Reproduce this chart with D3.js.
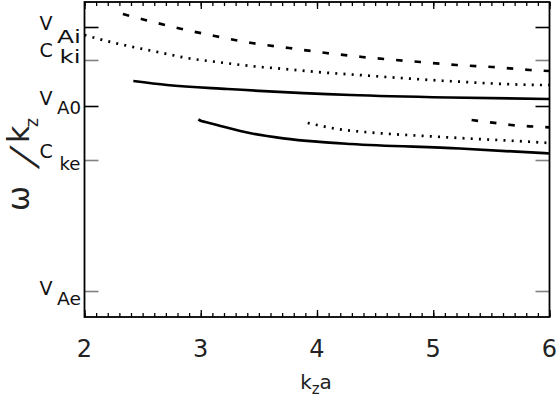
<!DOCTYPE html>
<html>
<head>
<meta charset="utf-8">
<script src="https://cdn.jsdelivr.net/npm/d3@7"></script>
<style>
    body { margin: 0; background: #fff; }
    svg { display: block; font-family: 'DejaVu Sans', sans-serif; }
</style>
</head>
<body>
<svg id="chart" width="556" height="399"></svg>
<script>
// Phase speed omega/k_z against k_z a, arbitrary speed units
const kTicks = [2, 3, 4, 5, 6];

// characteristic speeds marked on the y axis
const speedMain = ['V', 'C', 'V', 'C', 'V'];
const speedSub = ['Ai', 'ki', 'A0', 'ke', 'Ae'];
const speedValues = [2.90, 2.57, 2.11, 1.57, 0.26];

// upper family of modes
const upperDashK = [2.33, 2.49, 2.80, 3.12, 3.44, 3.76, 4.08, 4.39, 4.89, 5.20, 5.51, 5.83, 6.00];
const upperDashV = [3.03, 2.98, 2.89, 2.81, 2.74, 2.69, 2.64, 2.60, 2.55, 2.52, 2.50, 2.47, 2.46];
const upperDotK = [2.00, 2.26, 2.46, 2.67, 2.88, 3.14, 3.43, 3.72, 4.00, 4.36, 5.12, 5.96, 6.00];
const upperDotV = [2.82, 2.74, 2.69, 2.64, 2.59, 2.55, 2.51, 2.48, 2.45, 2.42, 2.36, 2.32, 2.32];
const upperSolidK = [2.42, 2.71, 3.23, 4.29, 5.14, 6.00];
const upperSolidV = [2.36, 2.32, 2.28, 2.22, 2.195, 2.18];

// lower family of modes
const lowerSolidK = [2.98, 3.00, 3.04, 3.14, 3.43, 3.71, 4.00, 4.29, 5.23, 6.00];
const lowerSolidV = [1.977, 1.962, 1.95, 1.92, 1.837, 1.787, 1.753, 1.73, 1.685, 1.635];
const lowerDotK = [3.92, 4.00, 4.14, 4.29, 4.41, 5.12, 5.96, 6.00];
const lowerDotV = [1.94, 1.92, 1.887, 1.863, 1.85, 1.797, 1.743, 1.74];
const lowerDashK = [5.33, 5.51, 5.67, 5.83, 6.00];
const lowerDashV = [1.97, 1.943, 1.92, 1.907, 1.897];

const curves = [
    { k: upperDashK, v: upperDashV, dash: '6.5,12' },
    { k: upperDotK, v: upperDotV, dash: '2,6.2' },
    { k: upperSolidK, v: upperSolidV, dash: null },
    { k: lowerSolidK, v: lowerSolidV, dash: null },
    { k: lowerDotK, v: lowerDotV, dash: '2,6.2' },
    { k: lowerDashK, v: lowerDashV, dash: '6.5,12' }
];

// label layout: baseline offsets (main letter, subscript) from the tick, and tick colour
const labelOffsets = [[3, 15.5], [-3, 3], [-1, 8], [-2, 10], [4, 14]];
const tickGray = [false, true, false, true, true];

const svg = d3.select('#chart');

const x = d3.scaleLinear().domain([2, 6]).range([84.5, 549.5]);
const y = d3.scaleLinear().domain([0, 3.15]).range([317, 2]);

// minor and major ticks, pointing inwards, on top and bottom
function xTicks(axisFn, yPos, count, size, values) {
    const axis = axisFn(x).tickSize(-size).tickFormat('');
    if (values) axis.tickValues(values); else axis.ticks(count);
    const g = svg.append('g')
        .attr('transform', `translate(0,${yPos})`)
        .call(axis);
    g.select('.domain').remove();
    g.selectAll('line').attr('stroke', '#000').attr('stroke-width', 1.3);
    return g;
}
xTicks(d3.axisBottom, y(0), 40, 4);
xTicks(d3.axisBottom, y(0), null, 7, kTicks);
xTicks(d3.axisTop, y(3.15), 40, 4);
xTicks(d3.axisTop, y(3.15), null, 7, kTicks);

// x tick labels
svg.append('g')
    .selectAll('text')
    .data(kTicks)
    .enter()
    .append('text')
        .attr('x', d => x(d))
        .attr('y', 357)
        .attr('text-anchor', 'middle')
        .attr('font-size', 24)
        .attr('fill', '#222')
        .text(d => d);

// speed ticks on left and right
[[d3.axisLeft, x(2)], [d3.axisRight, x(6)]].forEach(([axisFn, xPos]) => {
    const g = svg.append('g')
        .attr('transform', `translate(${xPos},0)`)
        .call(axisFn(y).tickValues(speedValues).tickSize(-14).tickFormat(''));
    g.select('.domain').remove();
    g.selectAll('line')
        .attr('stroke', (d, i) => tickGray[i] ? '#808080' : '#000')
        .attr('stroke-width', 1.6);
});

// speed labels
const labels = svg.append('g')
    .selectAll('text')
    .data(speedValues)
    .enter()
    .append('text')
        .attr('x', 39.5)
        .attr('y', (d, i) => y(d) + labelOffsets[i][0])
        .attr('font-size', 19)
        .attr('fill', '#111')
        .text((d, i) => speedMain[i]);
labels.append('tspan')
    .attr('x', (d, i) => speedMain[i] === 'C' ? 59.5 : 57)
    .attr('dy', (d, i) => labelOffsets[i][1] - labelOffsets[i][0])
    .attr('font-size', 17)
    .attr('textLength', (d, i) => speedMain[i] === 'C' ? 21 : 24)
    .attr('lengthAdjust', 'spacingAndGlyphs')
    .text((d, i) => speedSub[i]);

// curves
const line = d3.line()
    .x(d => x(d[0]))
    .y(d => y(d[1]))
    .curve(d3.curveMonotoneX);
svg.append('g')
    .selectAll('path')
    .data(curves)
    .enter()
    .append('path')
        .attr('d', c => line(c.k.map((k, i) => [k, c.v[i]])))
        .attr('fill', 'none')
        .attr('stroke', '#000')
        .attr('stroke-width', 2.7)
        .attr('stroke-dasharray', c => c.dash);

// frame
svg.append('rect')
    .attr('x', x(2))
    .attr('y', y(3.15))
    .attr('width', x(6) - x(2))
    .attr('height', y(0) - y(3.15))
    .attr('fill', 'none')
    .attr('stroke', '#000')
    .attr('stroke-width', 1.8);

// x axis title
const xTitle = svg.append('text')
    .attr('x', 316)
    .attr('y', 389)
    .attr('text-anchor', 'middle')
    .attr('font-size', 20)
    .attr('fill', '#222');
xTitle.append('tspan').text('k');
xTitle.append('tspan').attr('font-size', 15).attr('dy', 5).text('z');
xTitle.append('tspan').attr('dy', -5).text('a');

// y axis title: omega / k_z, rotated
const yTitle = svg.append('g')
    .attr('transform', 'translate(29,0) rotate(-90)')
    .attr('fill', '#222');
yTitle.append('text').attr('x', -211).attr('font-size', 30).text('ω');
yTitle.append('text')
    .attr('transform', 'translate(-168,7) skewX(-22)')
    .attr('font-size', 36)
    .text('/');
yTitle.append('text').attr('x', -143).attr('font-size', 30).text('k');
yTitle.append('text').attr('x', -127).attr('y', 9).attr('font-size', 17).text('z');
</script>
</body>
</html>
